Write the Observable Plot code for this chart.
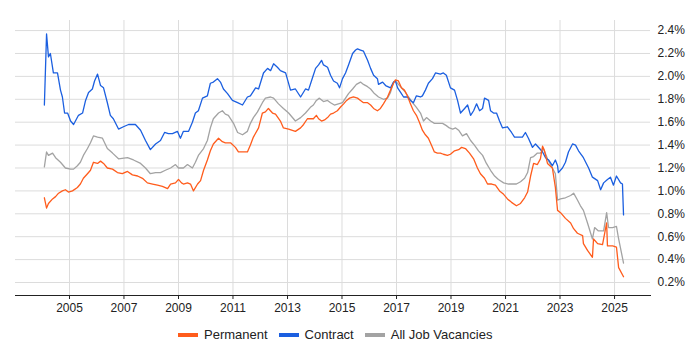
<!DOCTYPE html>
<html>
<head>
<meta charset="utf-8">
<script src="https://cdn.jsdelivr.net/npm/d3@7"></script>
<script src="https://cdn.jsdelivr.net/npm/@observablehq/plot@0.6"></script>
<style>
  html, body { margin: 0; padding: 0; background: #fff; }
  body { width: 700px; height: 350px; overflow: hidden; font-family: "Liberation Sans", Arial, sans-serif; }
  #chart { position: relative; width: 700px; height: 315px; }
  #legend { position: absolute; top: 327px; left: 178px; display: flex; align-items: center; font-size: 13px; color: #222; white-space: nowrap; }
  .item { display: flex; align-items: center; margin-right: 11px; }
  .sw { width: 20px; height: 4px; margin-right: 6px; }
</style>
</head>
<body>
<div id="chart"></div>
<div id="legend"></div>
<script>
// Series: [decimal year, share of vacancies in %]
const permanent = [
[2004.08,0.94],[2004.16,0.85],[2004.23,0.89],[2004.38,0.93],[2004.49,0.95],[2004.60,0.98],[2004.74,1.00],[2004.85,1.01],[2004.96,0.99],[2005.11,1.00],
[2005.29,1.03],[2005.40,1.06],[2005.51,1.11],[2005.66,1.15],[2005.77,1.18],[2005.88,1.25],[2006.03,1.24],[2006.14,1.26],[2006.25,1.24],[2006.39,1.20],
[2006.58,1.19],[2006.76,1.16],[2006.94,1.15],[2007.13,1.17],[2007.31,1.14],[2007.50,1.13],[2007.68,1.11],[2007.86,1.07],[2008.05,1.06],[2008.23,1.05],
[2008.41,1.04],[2008.60,1.02],[2008.71,1.06],[2008.89,1.07],[2009.00,1.10],[2009.11,1.07],[2009.18,1.06],[2009.33,1.07],[2009.44,1.06],[2009.55,1.00],
[2009.70,1.06],[2009.81,1.09],[2009.92,1.18],[2010.06,1.27],[2010.17,1.35],[2010.28,1.41],[2010.47,1.46],[2010.61,1.43],[2010.72,1.42],[2010.91,1.42],
[2011.09,1.38],[2011.20,1.34],[2011.35,1.34],[2011.53,1.34],[2011.64,1.40],[2011.75,1.47],[2011.94,1.55],[2012.08,1.68],[2012.19,1.69],[2012.30,1.72],
[2012.45,1.68],[2012.56,1.67],[2012.74,1.61],[2012.85,1.55],[2013.04,1.54],[2013.29,1.52],[2013.48,1.55],[2013.59,1.58],[2013.73,1.63],[2013.84,1.63],
[2013.95,1.63],[2014.06,1.66],[2014.14,1.63],[2014.25,1.61],[2014.36,1.62],[2014.47,1.64],[2014.58,1.67],[2014.69,1.68],[2014.83,1.70],[2014.94,1.73],
[2015.06,1.76],[2015.17,1.79],[2015.28,1.81],[2015.42,1.82],[2015.57,1.81],[2015.68,1.79],[2015.79,1.77],[2015.94,1.77],[2016.05,1.75],[2016.16,1.72],
[2016.30,1.70],[2016.41,1.72],[2016.52,1.76],[2016.67,1.82],[2016.78,1.88],[2016.89,1.94],[2016.96,1.97],[2017.07,1.96],[2017.18,1.90],[2017.29,1.88],
[2017.40,1.83],[2017.51,1.76],[2017.62,1.70],[2017.73,1.66],[2017.84,1.60],[2017.95,1.53],[2018.06,1.49],[2018.17,1.46],[2018.28,1.40],[2018.39,1.34],
[2018.50,1.33],[2018.61,1.33],[2018.72,1.32],[2018.87,1.31],[2018.98,1.32],[2019.13,1.35],[2019.28,1.36],[2019.39,1.38],[2019.53,1.37],[2019.68,1.33],
[2019.83,1.28],[2019.97,1.20],[2020.08,1.15],[2020.23,1.11],[2020.34,1.06],[2020.49,1.06],[2020.63,1.05],[2020.78,1.00],[2020.93,0.97],[2021.07,0.93],
[2021.22,0.90],[2021.40,0.87],[2021.55,0.89],[2021.70,0.94],[2021.81,0.99],[2021.92,1.13],[2022.03,1.24],[2022.17,1.23],[2022.28,1.28],[2022.36,1.39],
[2022.43,1.35],[2022.54,1.24],[2022.72,1.20],[2022.83,1.03],[2022.91,0.83],[2023.02,0.81],[2023.20,0.76],[2023.39,0.72],[2023.50,0.67],[2023.64,0.63],
[2023.83,0.61],[2023.86,0.54],[2024.01,0.48],[2024.19,0.42],[2024.23,0.58],[2024.38,0.54],[2024.56,0.53],[2024.71,0.72],[2024.74,0.52],[2024.93,0.52],
[2025.07,0.51],[2025.15,0.33],[2025.33,0.25]
];
const contract = [
[2004.08,1.75],[2004.16,2.37],[2004.23,2.17],[2004.30,2.20],[2004.41,2.03],[2004.56,2.03],[2004.67,1.88],[2004.74,1.82],[2004.82,1.68],[2004.93,1.68],
[2005.04,1.61],[2005.15,1.58],[2005.33,1.66],[2005.48,1.68],[2005.59,1.79],[2005.70,1.86],[2005.84,1.89],[2005.92,1.96],[2006.03,2.02],[2006.14,1.92],
[2006.25,1.90],[2006.39,1.77],[2006.50,1.66],[2006.61,1.63],[2006.80,1.54],[2006.98,1.56],[2007.17,1.58],[2007.42,1.58],[2007.61,1.53],[2007.79,1.44],
[2007.97,1.36],[2008.16,1.41],[2008.34,1.44],[2008.49,1.51],[2008.63,1.50],[2008.78,1.50],[2008.96,1.52],[2009.07,1.46],[2009.18,1.52],[2009.37,1.52],
[2009.51,1.60],[2009.62,1.68],[2009.73,1.70],[2009.88,1.81],[2010.06,1.83],[2010.17,1.94],[2010.28,1.95],[2010.43,1.98],[2010.54,1.95],[2010.65,1.89],
[2010.80,1.85],[2010.98,1.79],[2011.17,1.77],[2011.35,1.75],[2011.53,1.82],[2011.64,1.83],[2011.83,1.90],[2011.94,1.89],[2012.12,2.03],[2012.27,2.07],
[2012.38,2.05],[2012.49,2.11],[2012.63,2.08],[2012.74,2.05],[2012.93,2.03],[2013.11,1.88],[2013.29,1.89],[2013.48,1.82],[2013.66,1.89],[2013.77,1.88],
[2013.92,1.99],[2014.03,2.07],[2014.14,2.10],[2014.25,2.14],[2014.32,2.10],[2014.47,2.08],[2014.58,2.01],[2014.69,1.96],[2014.83,1.94],[2014.91,1.90],
[2015.02,1.98],[2015.13,2.03],[2015.24,2.10],[2015.39,2.20],[2015.50,2.23],[2015.57,2.24],[2015.68,2.23],[2015.79,2.22],[2015.94,2.14],[2016.05,2.07],
[2016.16,2.01],[2016.30,1.98],[2016.34,1.93],[2016.49,1.95],[2016.60,1.92],[2016.78,1.90],[2016.89,1.95],[2016.96,1.96],[2017.04,1.90],[2017.15,1.86],
[2017.26,1.82],[2017.40,1.82],[2017.51,1.79],[2017.62,1.77],[2017.73,1.83],[2017.88,1.82],[2017.95,1.83],[2018.06,1.88],[2018.17,1.94],[2018.32,1.98],
[2018.43,2.03],[2018.61,2.02],[2018.72,2.03],[2018.83,2.01],[2018.98,1.90],[2019.13,1.88],[2019.24,1.79],[2019.35,1.68],[2019.50,1.72],[2019.61,1.75],
[2019.72,1.66],[2019.83,1.70],[2019.94,1.76],[2020.05,1.70],[2020.16,1.72],[2020.23,1.81],[2020.38,1.79],[2020.45,1.70],[2020.56,1.68],[2020.67,1.68],
[2020.78,1.61],[2020.89,1.55],[2021.07,1.56],[2021.22,1.51],[2021.33,1.47],[2021.48,1.47],[2021.62,1.47],[2021.73,1.51],[2021.84,1.46],[2021.99,1.38],
[2022.10,1.41],[2022.25,1.37],[2022.36,1.34],[2022.47,1.29],[2022.58,1.27],[2022.72,1.22],[2022.83,1.27],[2022.91,1.22],[2022.94,1.16],[2023.09,1.20],
[2023.20,1.25],[2023.31,1.34],[2023.46,1.41],[2023.57,1.40],[2023.68,1.35],[2023.86,1.29],[2024.05,1.20],[2024.19,1.12],[2024.38,1.09],[2024.49,1.01],
[2024.60,1.07],[2024.74,1.10],[2024.85,1.12],[2024.96,1.05],[2025.07,1.13],[2025.22,1.07],[2025.29,1.06],[2025.33,0.79]
];
const allJobs = [
[2004.08,1.21],[2004.16,1.34],[2004.23,1.31],[2004.38,1.33],[2004.49,1.29],[2004.67,1.25],[2004.85,1.20],[2005.04,1.19],[2005.15,1.19],[2005.29,1.22],
[2005.40,1.25],[2005.51,1.31],[2005.66,1.37],[2005.77,1.42],[2005.88,1.48],[2006.03,1.47],[2006.21,1.46],[2006.39,1.37],[2006.58,1.33],[2006.80,1.28],
[2007.13,1.29],[2007.35,1.27],[2007.61,1.24],[2007.79,1.20],[2007.97,1.15],[2008.16,1.16],[2008.34,1.16],[2008.52,1.18],[2008.71,1.20],[2008.89,1.23],
[2009.00,1.20],[2009.18,1.20],[2009.33,1.23],[2009.51,1.20],[2009.62,1.25],[2009.73,1.31],[2009.92,1.37],[2010.06,1.44],[2010.17,1.55],[2010.28,1.63],
[2010.47,1.68],[2010.61,1.70],[2010.72,1.67],[2010.83,1.66],[2011.02,1.59],[2011.17,1.51],[2011.35,1.49],[2011.53,1.52],[2011.64,1.59],[2011.75,1.64],
[2011.90,1.69],[2012.08,1.77],[2012.19,1.81],[2012.38,1.82],[2012.49,1.81],[2012.67,1.76],[2012.85,1.72],[2013.04,1.68],[2013.29,1.61],[2013.48,1.64],
[2013.66,1.68],[2013.84,1.73],[2013.95,1.75],[2014.06,1.79],[2014.17,1.81],[2014.32,1.78],[2014.47,1.79],[2014.58,1.77],[2014.72,1.75],[2014.87,1.76],
[2015.02,1.77],[2015.13,1.81],[2015.24,1.85],[2015.39,1.89],[2015.53,1.93],[2015.68,1.95],[2015.79,1.93],[2015.94,1.91],[2016.05,1.89],[2016.19,1.85],
[2016.34,1.82],[2016.52,1.80],[2016.67,1.81],[2016.78,1.86],[2016.89,1.95],[2016.96,1.96],[2017.07,1.93],[2017.22,1.89],[2017.33,1.86],[2017.44,1.82],
[2017.59,1.77],[2017.73,1.73],[2017.88,1.68],[2017.99,1.61],[2018.10,1.64],[2018.25,1.61],[2018.39,1.59],[2018.54,1.59],[2018.69,1.59],[2018.83,1.57],
[2018.94,1.55],[2019.06,1.54],[2019.17,1.55],[2019.28,1.53],[2019.42,1.48],[2019.57,1.50],[2019.72,1.44],[2019.86,1.40],[2020.01,1.35],[2020.16,1.31],
[2020.30,1.24],[2020.45,1.18],[2020.60,1.13],[2020.74,1.10],[2020.93,1.07],[2021.11,1.06],[2021.26,1.06],[2021.40,1.06],[2021.55,1.08],[2021.70,1.11],
[2021.81,1.16],[2021.92,1.29],[2022.03,1.30],[2022.17,1.33],[2022.28,1.33],[2022.39,1.37],[2022.54,1.28],[2022.72,1.20],[2022.83,1.15],[2022.91,0.92],
[2023.02,0.93],[2023.20,0.94],[2023.39,0.96],[2023.50,0.98],[2023.64,0.92],[2023.75,0.87],[2023.86,0.83],[2024.01,0.72],[2024.19,0.58],[2024.27,0.68],
[2024.41,0.65],[2024.60,0.65],[2024.71,0.81],[2024.78,0.68],[2024.93,0.68],[2025.07,0.69],[2025.15,0.58],[2025.33,0.37]
];
const seriesNames = ["Permanent", "Contract", "All Job Vacancies"];
const seriesColors = ["#ff5c1c", "#1b5fe0", "#a3a3a3"];
const yTicks = [0.2, 0.4, 0.6, 0.8, 1.0, 1.2, 1.4, 1.6, 1.8, 2.0, 2.2, 2.4];
const xTickYears = [2005, 2007, 2009, 2011, 2013, 2015, 2017, 2019, 2021, 2023, 2025];

function toDate(y) {
  const yr = Math.floor(y);
  const s = Date.UTC(yr, 0, 1), e = Date.UTC(yr + 1, 0, 1);
  return new Date(s + (y - yr) * (e - s));
}
const rows = [];
[permanent, contract, allJobs].forEach((arr, i) => {
  arr.forEach(([t, v]) => rows.push({date: toDate(t), value: v, series: seriesNames[i]}));
});
const byS = name => rows.filter(d => d.series === name);
const xTicks = xTickYears.map(y => new Date(Date.UTC(y, 0, 1)));

const chart = Plot.plot({
  width: 700,
  height: 315,
  marginTop: 20,
  marginBottom: 20,
  marginLeft: 15,
  marginRight: 50,
  style: {fontFamily: "'Liberation Sans', Arial, sans-serif", fontSize: "12px", color: "#222", background: "#fff"},
  x: {type: "utc", domain: [toDate(2003.02), toDate(2026.32)]},
  y: {domain: [0.0865, 2.488]},
  marks: [
    Plot.gridY(yTicks, {stroke: "#dcdcdc", strokeOpacity: 1}),
    Plot.gridX(xTicks, {stroke: "#dcdcdc", strokeOpacity: 1}),
    Plot.axisY(yTicks, {anchor: "right", tickSize: 0, tickPadding: 7, tickFormat: d => d.toFixed(1) + "%", label: null, fill: "#222"}),
    Plot.axisX(xTicks, {anchor: "bottom", tickSize: 4, tickPadding: 4, tickFormat: d3.utcFormat("%Y"), label: null, fill: "#222", stroke: "#222"}),
    Plot.frame({anchor: "bottom", stroke: "#222"}),
    Plot.line(byS("All Job Vacancies"), {x: "date", y: "value", stroke: seriesColors[2], strokeWidth: 1.3}),
    Plot.line(byS("Contract"), {x: "date", y: "value", stroke: seriesColors[1], strokeWidth: 1.3}),
    Plot.line(byS("Permanent"), {x: "date", y: "value", stroke: seriesColors[0], strokeWidth: 1.3})
  ]
});
document.getElementById("chart").appendChild(chart);

const legend = document.getElementById("legend");
seriesNames.forEach((n, i) => {
  const it = document.createElement("div");
  it.className = "item";
  const sw = document.createElement("div");
  sw.className = "sw";
  sw.style.background = seriesColors[i];
  const tx = document.createElement("span");
  tx.textContent = n;
  it.appendChild(sw); it.appendChild(tx);
  legend.appendChild(it);
});
</script>
</body>
</html>
